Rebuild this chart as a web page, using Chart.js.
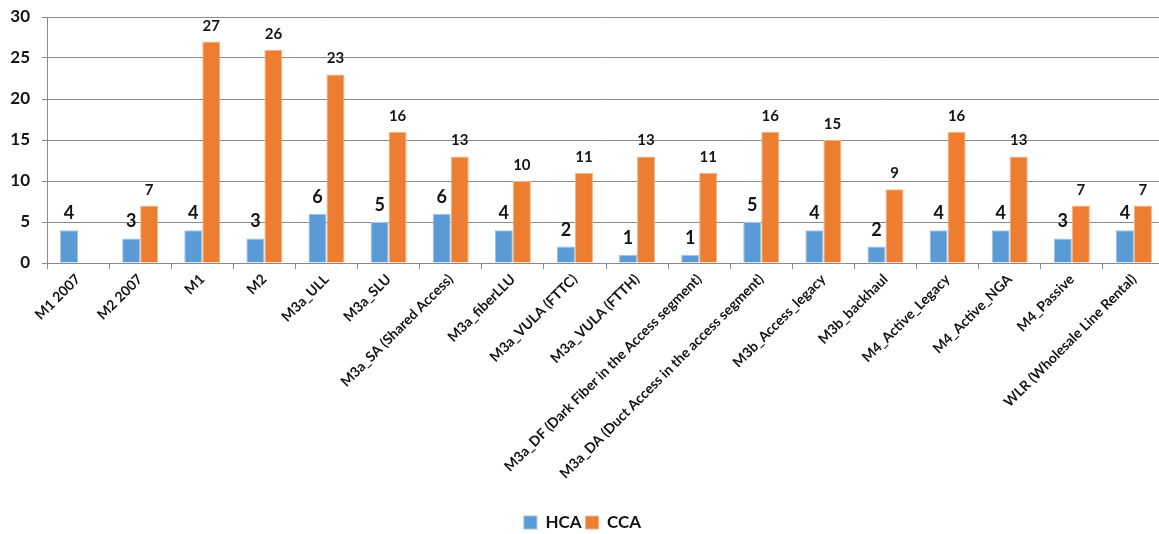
<!DOCTYPE html>
<html>
<head>
<meta charset="utf-8">
<script src="https://cdn.jsdelivr.net/npm/chart.js@4"></script>
<style>
    html, body { margin: 0; padding: 0; background: #fff; overflow: hidden; }
    #wrap { width: 1180px; height: 534px; }
</style>
</head>
<body>
<div id="wrap"><canvas id="markets_chart" width="1180" height="534"></canvas></div>
<script>
// data
const marketLabels = [
    'M1 2007', 'M2 2007', 'M1', 'M2', 'M3a_ULL', 'M3a_SLU',
    'M3a_SA (Shared Access)', 'M3a_fiberLLU', 'M3a_VULA (FTTC)', 'M3a_VULA (FTTH)',
    'M3a_DF (Dark Fiber in the Access segment)', 'M3a_DA (Duct Access in the access segment)',
    'M3b_Access_legacy', 'M3b_backhaul', 'M4_Active_Legacy', 'M4_Active_NGA',
    'M4_Passive', 'WLR (Wholesale Line Rental)'
];
const hcaValues = [4, 3, 4, 3, 6, 5, 6, 4, 2, 1, 1, 5, 4, 2, 4, 4, 3, 4];
const ccaValues = [null, 7, 27, 26, 23, 16, 13, 10, 11, 13, 11, 16, 15, 9, 16, 13, 7, 7];
const yTicks = [0, 5, 10, 15, 20, 25, 30];

const FONT = 'Lato, "Open Sans", sans-serif';
const TEXT = '#141414';
const GRID = '#8a8a8a';

// small value-label plugin (no datalabels lib available offline)
const barValueLabels = {
    id: 'barValueLabels',
    afterDatasetsDraw(chart) {
        const ctx = chart.ctx;
        chart.data.datasets.forEach((ds, i) => {
            const meta = chart.getDatasetMeta(i);
            const size = i === 0 ? 18 : 15;
            ctx.save();
            ctx.font = `bold ${size}px ${FONT}`;
            ctx.fillStyle = TEXT;
            ctx.textAlign = 'center';
            ctx.textBaseline = 'alphabetic';
            meta.data.forEach((bar, j) => {
                const v = ds.data[j];
                if (v === null || v === undefined) return;
                ctx.fillText(String(v), bar.x, bar.y - 11);
            });
            ctx.restore();
        });
    }
};

new Chart(document.getElementById('markets_chart'), {
    type: 'bar',
    data: {
        labels: marketLabels,
        datasets: [
            {
                label: 'HCA',
                data: hcaValues,
                backgroundColor: '#5B9BD5',
                borderColor: '#9DC3E6',
                borderWidth: 1
            },
            {
                label: 'CCA',
                data: ccaValues,
                backgroundColor: '#ED7D31',
                borderColor: '#F4B183',
                borderWidth: 1
            }
        ]
    },
    options: {
        responsive: false,
        animation: false,
        layout: { padding: { top: 17, right: 15, left: 0, bottom: -7 } },
        datasets: {
            bar: { categoryPercentage: 0.58, barPercentage: 1 }
        },
        plugins: {
            legend: {
                position: 'bottom',
                labels: {
                    color: TEXT,
                    font: { family: FONT, size: 17, weight: 'bold' },
                    boxWidth: 13,
                    boxHeight: 13,
                    padding: 4
                }
            },
            tooltip: { enabled: false }
        },
        scales: {
            x: {
                afterFit: scale => { scale.height = 247; },
                ticks: {
                    color: TEXT,
                    minRotation: 45,
                    maxRotation: 45,
                    autoSkip: false,
                    padding: 2,
                    font: { family: FONT, size: 14, weight: 'bold' }
                },
                grid: { drawOnChartArea: false, drawTicks: true, tickLength: 6, color: GRID, offset: true },
                border: { color: GRID }
            },
            y: {
                min: yTicks[0],
                max: yTicks[yTicks.length - 1],
                afterFit: scale => {
                    scale.width = 47;
                    scale.paddingTop = 0;
                },
                ticks: {
                    stepSize: yTicks[1] - yTicks[0],
                    color: TEXT,
                    padding: 12,
                    font: { family: FONT, size: 17, weight: 'bold' }
                },
                grid: { color: GRID, tickLength: 5, lineWidth: 1 },
                border: { color: GRID }
            }
        }
    },
    plugins: [barValueLabels]
});
</script>
</body>
</html>
